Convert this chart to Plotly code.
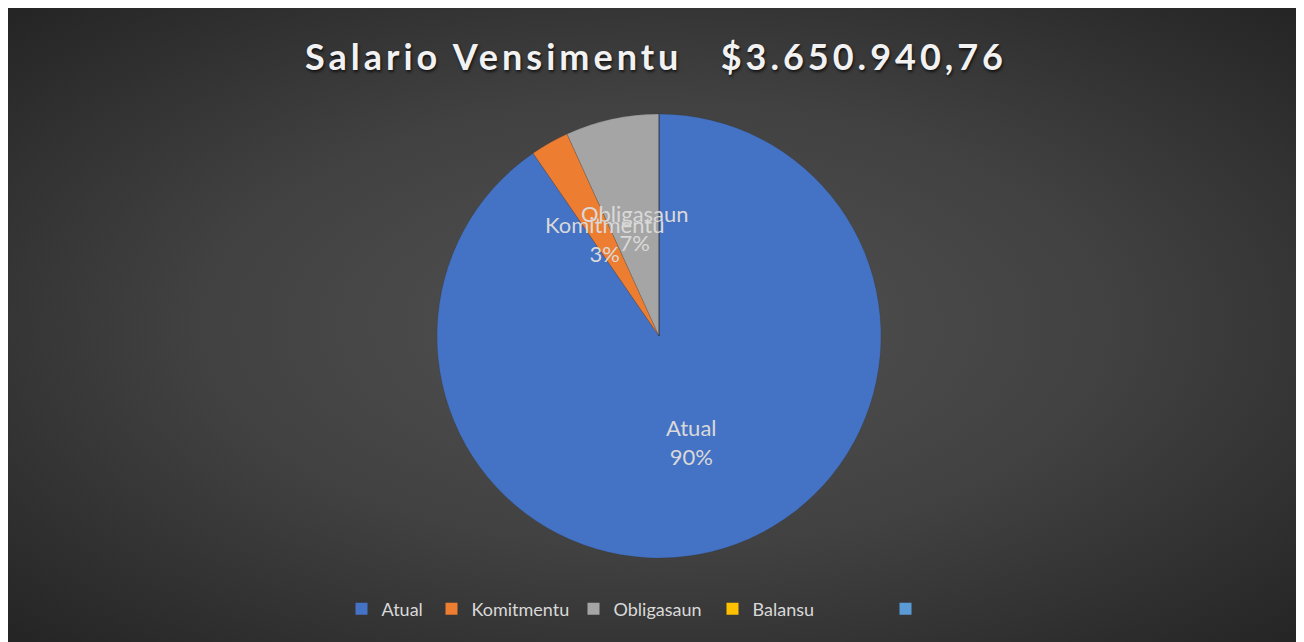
import math
import plotly.graph_objects as go

# ---- data ----
categories = ["Atual", "Komitmentu", "Obligasaun", "Balansu", "\u00a0"]
values = [90.4, 2.8, 6.8, 0, 0]
colors = ["#4472C4", "#ED7D31", "#A5A5A5", "#FFC000", "#5B9BD5"]
title_text = "Salario Vensimentu\u00a0\u00a0\u00a0$3.650.940,76"

# figure is placed by the page at an 8px body margin
OX, OY = 8, 8
W, H = 1296, 634
# pie geometry in page px
cx, cy, r = 659 - OX, 336 - OY, 222
# legend entry widths
legend_widths = [45, 97, 94, 128, 40]

fig = go.Figure()

# radial gradient background (oversized so the gradient reaches the corners)
mx, my = W / 2, H / 2
hw, hh = W / 2 * 1.42, H / 2 * 1.42
fig.add_trace(go.Scatter(
    x=[mx - hw, mx + hw, mx + hw, mx - hw, mx - hw],
    y=[my - hh, my - hh, my + hh, my + hh, my - hh],
    mode="lines", line=dict(width=0), fill="toself",
    fillgradient=dict(type="radial",
                      colorscale=[[0, "#525252"], [0.5, "#414141"], [1, "#242424"]]),
    hoverinfo="skip", showlegend=False,
))

fig.add_trace(go.Pie(
    labels=categories, values=values, sort=False, direction="clockwise", rotation=0,
    marker=dict(colors=colors, line=dict(color="rgba(40,40,40,0.35)", width=0.5)),
    textinfo="none", hoverinfo="label+percent", showlegend=False,
    domain=dict(x=[(cx - r) / W, (cx + r) / W], y=[1 - (cy + r) / H, 1 - (cy - r) / H]),
))

# legend entries (square markers)
for lab, col, lw in zip(categories, colors, legend_widths):
    fig.add_trace(go.Scatter(
        x=[None], y=[None], mode="markers", name=lab,
        marker=dict(symbol="square", size=12, color=col),
        legendwidth=lw, showlegend=True, hoverinfo="skip",
    ))

# data labels at half radius along each slice's mid-angle
total = sum(values)
cum = 0
for lab, v in zip(categories, values):
    if v > 0:
        mid = (cum + v / 2) / total * 2 * math.pi
        d = 0.5 * r
        px = cx + d * math.sin(mid)
        py = cy - d * math.cos(mid)
        fig.add_annotation(
            x=px / W, y=1 - py / H, xref="paper", yref="paper",
            text=f"{lab}<br>{round(v / total * 100)}%", showarrow=False,
            font=dict(family="Lato, Open Sans, sans-serif", size=22, color="#d9d9d9"),
            align="center", xanchor="center", yanchor="middle",
        )
    cum += v

fig.update_layout(
    width=W, height=H, margin=dict(l=0, r=0, t=0, b=0),
    paper_bgcolor="#333333", plot_bgcolor="rgba(0,0,0,0)",
    xaxis=dict(range=[0, W], domain=[0, 1], visible=False, fixedrange=True),
    yaxis=dict(range=[H, 0], domain=[0, 1], visible=False, fixedrange=True),
    title=dict(text=title_text, x=0.5, xanchor="center",
               y=1 - (57 - OY) / H, yanchor="middle",
               font=dict(family="Lato, Open Sans, sans-serif", size=36, color="#f2f2f2",
                         weight="bold", shadow="1px 2px 3px rgba(0,0,0,0.7)")),
    legend=dict(orientation="h", x=0.5, xanchor="center",
                y=1 - (609 - OY) / H, yanchor="middle",
                font=dict(family="Lato, Open Sans, sans-serif", size=18, color="#d9d9d9"),
                bgcolor="rgba(0,0,0,0)"),
    showlegend=True,
)

post = ("var s=document.createElement('style');"
        "s.textContent='.gtitle{letter-spacing:4px;}';"
        "document.head.appendChild(s);")
fig.write_html("out.html", post_script=post)
